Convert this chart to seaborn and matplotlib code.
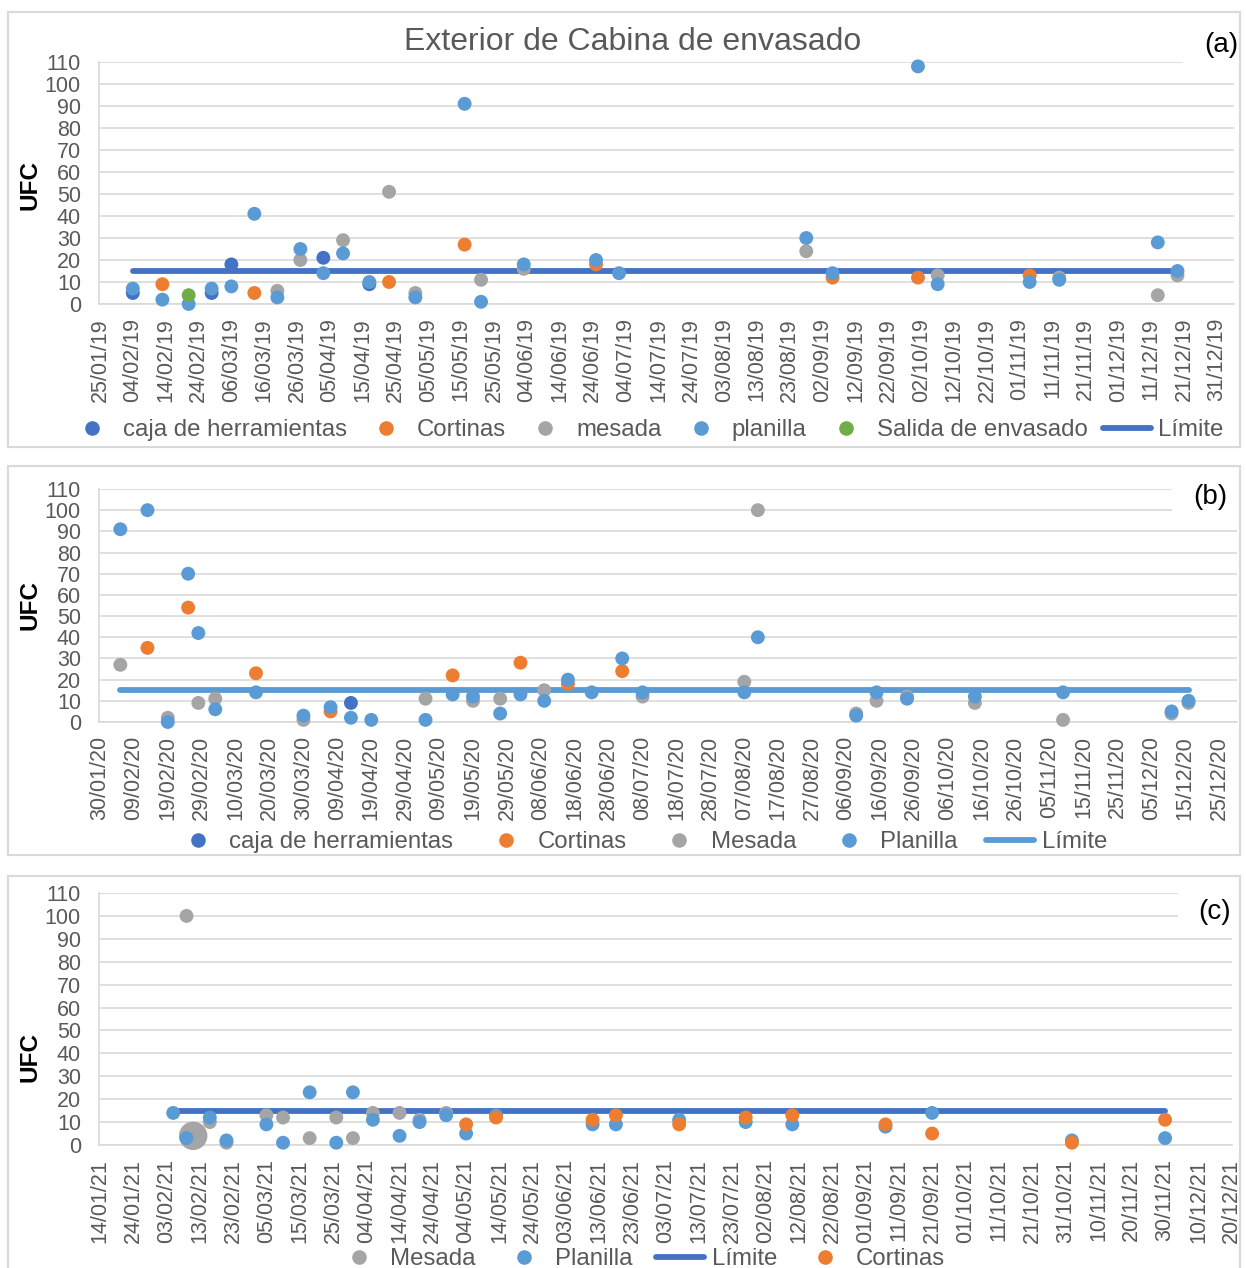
import matplotlib
matplotlib.use("Agg")
import matplotlib.pyplot as plt
import matplotlib.dates as mdates
from matplotlib.lines import Line2D
from matplotlib.patches import Rectangle
import pandas as pd
import seaborn as sns

W, H = 1246, 1268
LIMITE = 15

# colores de Excel (tema Office)
C_CAJA = "#4472C4"
C_CORT = "#ED7D31"
C_MES = "#A5A5A5"
C_PLAN = "#5B9BD5"
C_SAL = "#70AD47"
GRAY_TXT = "#595959"
GRID = "#D9D9D9"

# ---- (a) 2019 ----
caja_a_dates = ["04/02/19", "28/02/19", "06/03/19", "03/04/19", "17/04/19"]
caja_a_vals = [5, 5, 18, 21, 9]
cortinas_a_dates = ["13/02/19", "13/03/19", "23/04/19", "16/05/19", "25/06/19",
                    "05/09/19", "01/10/19", "04/11/19"]
cortinas_a_vals = [9, 5, 10, 27, 18, 12, 12, 13]
mesada_a_dates = ["20/03/19", "27/03/19", "09/04/19", "23/04/19", "01/05/19", "21/05/19",
                  "03/06/19", "28/08/19", "07/10/19", "13/11/19", "13/12/19", "19/12/19"]
mesada_a_vals = [6, 20, 29, 51, 5, 11, 16, 24, 13, 12, 4, 13]
planilla_a_dates = ["04/02/19", "13/02/19", "21/02/19", "28/02/19", "06/03/19", "13/03/19",
                    "20/03/19", "27/03/19", "03/04/19", "09/04/19", "17/04/19", "01/05/19",
                    "16/05/19", "21/05/19", "03/06/19", "25/06/19", "02/07/19", "28/08/19",
                    "05/09/19", "01/10/19", "07/10/19", "04/11/19", "13/11/19", "13/12/19",
                    "19/12/19"]
planilla_a_vals = [7, 2, 0, 7, 8, 41, 3, 25, 14, 23, 10, 3, 91, 1, 18, 20, 14, 30,
                   14, 108, 9, 10, 11, 28, 15]
salida_a_dates = ["21/02/19"]
salida_a_vals = [4]

# ---- (b) 2020 ----
caja_b_dates = ["13/04/20"]
caja_b_vals = [9]
cortinas_b_dates = ["13/02/20", "25/02/20", "16/03/20", "07/04/20", "13/05/20",
                    "02/06/20", "16/06/20", "02/07/20"]
cortinas_b_vals = [35, 54, 23, 5, 22, 28, 18, 24]
mesada_b_dates = ["05/02/20", "19/02/20", "28/02/20", "04/03/20", "30/03/20", "05/05/20",
                  "19/05/20", "27/05/20", "09/06/20", "08/07/20", "07/08/20", "11/08/20",
                  "09/09/20", "15/09/20", "24/09/20", "14/10/20", "09/11/20", "11/12/20",
                  "16/12/20"]
mesada_b_vals = [27, 2, 9, 11, 1, 11, 10, 11, 15, 12, 19, 100, 4, 10, 12, 9, 1, 4, 9]
planilla_b_dates = ["05/02/20", "13/02/20", "19/02/20", "25/02/20", "28/02/20", "04/03/20",
                    "16/03/20", "30/03/20", "07/04/20", "13/04/20", "19/04/20", "05/05/20",
                    "13/05/20", "19/05/20", "27/05/20", "02/06/20", "09/06/20", "16/06/20",
                    "23/06/20", "02/07/20", "08/07/20", "07/08/20", "11/08/20", "09/09/20",
                    "15/09/20", "24/09/20", "14/10/20", "09/11/20", "11/12/20", "16/12/20"]
planilla_b_vals = [91, 100, 0, 70, 42, 6, 14, 3, 7, 2, 1, 1, 13, 12, 4, 13, 10, 20,
                   14, 30, 14, 14, 40, 3, 14, 11, 12, 14, 5, 10]

# ---- (c) 2021 ----
mesada_c_dates = ["09/02/21", "16/02/21", "21/02/21", "05/03/21", "10/03/21", "18/03/21",
                  "26/03/21", "31/03/21", "06/04/21", "14/04/21", "20/04/21", "28/04/21"]
mesada_c_vals = [100, 10, 1, 13, 12, 3, 12, 3, 14, 14, 11, 14]
mesada_c_big_dates = ["11/02/21"]
mesada_c_big_vals = [4]
planilla_c_dates = ["05/02/21", "09/02/21", "16/02/21", "21/02/21", "05/03/21", "10/03/21",
                    "18/03/21", "26/03/21", "31/03/21", "06/04/21", "14/04/21", "20/04/21",
                    "28/04/21", "04/05/21", "13/05/21", "11/06/21", "18/06/21", "07/07/21",
                    "27/07/21", "10/08/21", "07/09/21", "21/09/21", "02/11/21", "30/11/21"]
planilla_c_vals = [14, 3, 12, 2, 9, 1, 23, 1, 23, 11, 4, 10, 13, 5, 13, 9, 9, 11,
                   10, 9, 8, 14, 2, 3]
cortinas_c_dates = ["04/05/21", "13/05/21", "11/06/21", "18/06/21", "07/07/21", "27/07/21",
                    "10/08/21", "07/09/21", "21/09/21", "02/11/21", "30/11/21"]
cortinas_c_vals = [9, 12, 11, 13, 9, 12, 13, 9, 5, 1, 11]


def to_dates(lst):
    return pd.to_datetime(pd.Series(lst), format="%d/%m/%y")


def px_rect(left, top, right, bottom):
    return [left / W, 1 - bottom / H, (right - left) / W, (bottom - top) / H]


def draw_panel(ax, series, limite_color, base, n_ticks, right_days):
    all_dates = []
    for dates, vals, color, size in series:
        d = to_dates(dates)
        all_dates.extend(list(d))
        sns.scatterplot(x=d, y=vals, color=color, s=size, edgecolor="none", linewidth=0,
                        ax=ax, clip_on=False, zorder=3, legend=False)
    # linea de limite entre primera y ultima fecha
    lim_x = pd.Series([min(all_dates), max(all_dates)])
    sns.lineplot(x=lim_x, y=[LIMITE, LIMITE], color=limite_color, linewidth=4.2, ax=ax,
                 zorder=2, legend=False, solid_capstyle="round")

    base = pd.Timestamp(base)
    ticks = pd.date_range(base, periods=n_ticks, freq="10D")
    ax.set_xticks(ticks.to_pydatetime())
    ax.xaxis.set_major_formatter(mdates.DateFormatter("%d/%m/%y"))
    ax.set_xlim(base - pd.Timedelta(hours=7), base + pd.Timedelta(days=right_days))
    ax.set_ylim(0, 110)
    ax.set_yticks(range(0, 111, 10))
    ax.tick_params(axis="x", rotation=90, length=0, pad=10, labelsize=15.5, labelcolor=GRAY_TXT)
    ax.tick_params(axis="y", length=0, pad=13, labelsize=15.5, labelcolor=GRAY_TXT)
    ax.grid(axis="y", color=GRID, linewidth=1.2)
    ax.grid(axis="x", visible=False)
    ax.set_axisbelow(True)
    for side in ["top", "right"]:
        ax.spines[side].set_visible(False)
    for side in ["left", "bottom"]:
        ax.spines[side].set_color(GRID)
        ax.spines[side].set_linewidth(1.2)
    ax.set_xlabel("")
    ax.set_ylabel("")


def dot(color):
    return Line2D([], [], marker="o", linestyle="none", color=color, markersize=10.5,
                  markeredgewidth=0)


def limline(color):
    return Line2D([], [], color=color, linewidth=4.2, solid_capstyle="round")


sns.set_style("white")
plt.rcParams["font.family"] = ["Liberation Sans", "DejaVu Sans"]

fig = plt.figure(figsize=(W / 100, H / 100), dpi=100)

# marcos de cada grafico
for top, bottom in [(12, 447), (466, 855), (876, 1280)]:
    fig.add_artist(Rectangle((8 / W, 1 - bottom / H), 1232 / W, (bottom - top) / H,
                             transform=fig.transFigure, fill=False, edgecolor=GRID,
                             linewidth=1.5))

ax_a = fig.add_axes(px_rect(99, 62, 1234, 304))
draw_panel(ax_a, [(caja_a_dates, caja_a_vals, C_CAJA, 100),
                  (cortinas_a_dates, cortinas_a_vals, C_CORT, 100),
                  (mesada_a_dates, mesada_a_vals, C_MES, 100),
                  (planilla_a_dates, planilla_a_vals, C_PLAN, 100),
                  (salida_a_dates, salida_a_vals, C_SAL, 100)],
           C_CAJA, "2019-01-25", 35, 345.2)

ax_b = fig.add_axes(px_rect(99, 489, 1237, 722))
draw_panel(ax_b, [(caja_b_dates, caja_b_vals, C_CAJA, 100),
                  (cortinas_b_dates, cortinas_b_vals, C_CORT, 100),
                  (mesada_b_dates, mesada_b_vals, C_MES, 100),
                  (planilla_b_dates, planilla_b_vals, C_PLAN, 100)],
           C_PLAN, "2020-01-30", 34, 335.3)

ax_c = fig.add_axes(px_rect(99, 893, 1232, 1145))
draw_panel(ax_c, [(mesada_c_dates, mesada_c_vals, C_MES, 100),
                  (mesada_c_big_dates, mesada_c_big_vals, C_MES, 420),
                  (planilla_c_dates, planilla_c_vals, C_PLAN, 100),
                  (cortinas_c_dates, cortinas_c_vals, C_CORT, 100)],
           C_CAJA, "2021-01-14", 35, 340.1)

# leyendas
leg_kw = dict(loc="center", frameon=False, handlelength=2.0, handletextpad=0.3,
              fontsize=17.3, labelcolor=GRAY_TXT)
fig.legend([dot(C_CAJA), dot(C_CORT), dot(C_MES), dot(C_PLAN), dot(C_SAL), limline(C_CAJA)],
           ["caja de herramientas", "Cortinas", "mesada", "planilla", "Salida de envasado", "Límite"],
           ncol=6, columnspacing=0.62, bbox_to_anchor=(645.5 / W, 1 - 430 / H), **leg_kw)
fig.legend([dot(C_CAJA), dot(C_CORT), dot(C_MES), dot(C_PLAN), limline(C_PLAN)],
           ["caja de herramientas", "Cortinas", "Mesada", "Planilla", "Límite"],
           ncol=5, columnspacing=1.2, bbox_to_anchor=(640.5 / W, 1 - 842 / H), **leg_kw)
fig.legend([dot(C_MES), dot(C_PLAN), limline(C_CAJA), dot(C_CORT)],
           ["Mesada", "Planilla", "Límite", "Cortinas"],
           ncol=4, columnspacing=1.0, bbox_to_anchor=(640 / W, 1 - 1259 / H), **leg_kw)

# titulo, etiquetas de panel y eje
fig.text(633 / W, 1 - 42 / H, "Exterior de Cabina de envasado", ha="center", va="center",
         fontsize=23, color=GRAY_TXT)
for (x0, y0, y1), (cx, cy), tag in [((1183, 28, 72), (1221, 45), "(a)"),
                                    ((1172, 476, 520), (1210, 497), "(b)"),
                                    ((1178, 882, 928), (1215, 912), "(c)")]:
    fig.add_artist(Rectangle((x0 / W, 1 - y1 / H), (1238 - x0) / W, (y1 - y0) / H,
                             transform=fig.transFigure, facecolor="white", edgecolor="none",
                             zorder=5))
    fig.text(cx / W, 1 - cy / H, tag, ha="center", va="center", fontsize=20, color="black",
             zorder=6)

for cy in [185, 605, 1057]:
    fig.text(30 / W, 1 - cy / H, "UFC", rotation=90, ha="center", va="center", fontsize=17.5,
             fontweight="bold", color="black")

fig.savefig("out.png", dpi=100)
